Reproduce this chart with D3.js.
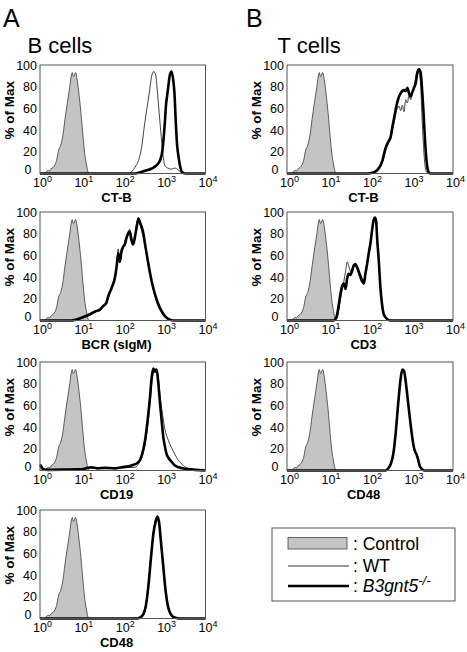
<!DOCTYPE html>
<html><head><meta charset="utf-8">
<script src="https://cdn.jsdelivr.net/npm/d3@7"></script>
<style>body{margin:0;background:#fff}svg{display:block}text{font-family:"Liberation Sans",Arial,Helvetica,sans-serif;fill:#000}</style>
</head><body><svg id="c" width="467" height="652"></svg>
<script>
// ---------- data (x = log10 fluorescence exponent, y = % of Max) ----------
const xTickExps = [0, 1, 2, 3, 4];
const yTickVals = [0, 20, 40, 60, 80, 100];
const legendLabels = ["Control", "WT", "B3gnt5"];

const controlHist = [[0.12,0],[0.16,2],[0.19,3],[0.23,2.5],[0.27,4.5],[0.315,5.6],[0.36,8],[0.40,12],[0.45,21.6],[0.50,26],[0.56,37],[0.60,49],[0.66,65],[0.72,80],[0.76,91],[0.78,93],[0.80,90],[0.82,89.5],[0.84,92],[0.86,93],[0.90,86],[0.94,74],[0.99,56],[1.04,34],[1.08,18.5],[1.12,9],[1.16,1.5],[1.19,0]];

const ctbB_WT = [[0,0],[2.12,0],[2.21,1.5],[2.30,6],[2.38,12],[2.46,25],[2.52,43],[2.58,59],[2.64,74],[2.70,90],[2.75,94],[2.80,90],[2.84,74],[2.88,56],[2.93,34],[2.98,15],[3.02,7],[3.09,5],[3.18,4],[3.26,5],[3.35,3],[3.43,0.5],[3.5,0],[4,0]];
const ctbB_KO = [[0,0],[2.30,0],[2.38,0.6],[2.54,2.5],[2.70,4.6],[2.82,7.7],[2.90,12],[2.96,21.6],[3.01,43],[3.05,65],[3.07,71],[3.10,80],[3.14,91],[3.18,94],[3.22,86],[3.25,74],[3.28,49],[3.31,28],[3.35,15],[3.39,6],[3.43,1.5],[3.51,0],[4,0]];

const bcr_WT = [[0,0],[0.8,0],[0.9,0.5],[1.0,2],[1.19,4.5],[1.35,8],[1.45,11],[1.52,12],[1.60,17],[1.65,21],[1.73,29],[1.81,38],[1.85,47],[1.89,66],[1.93,55],[1.97,62],[2.01,66],[2.05,73],[2.09,77],[2.13,82],[2.17,84],[2.21,78],[2.25,72],[2.30,80],[2.34,90],[2.38,95],[2.42,88],[2.46,82],[2.50,76],[2.54,68],[2.58,60],[2.62,50],[2.70,35],[2.78,22],[2.86,13],[2.94,7],[3.02,3],[3.10,1],[3.2,0],[4,0]];
const bcr_KO = [[0,0],[0.75,0],[0.84,0.5],[1.0,2.5],[1.19,5.5],[1.35,8.6],[1.45,10],[1.52,13],[1.60,16],[1.65,22.5],[1.73,30],[1.81,39.5],[1.85,49],[1.89,62],[1.93,54],[1.97,64],[2.01,68],[2.05,70],[2.09,76],[2.13,80],[2.17,82],[2.21,74],[2.25,70],[2.30,78],[2.34,87],[2.38,94],[2.42,90],[2.46,86],[2.50,80],[2.54,70],[2.58,61],[2.62,52],[2.70,36],[2.78,24],[2.86,15],[2.94,8.6],[3.02,4],[3.10,1.5],[3.18,0.3],[3.3,0],[4,0]];

const cd19_WT = [[0,3],[0.07,1],[0.5,0.5],[1.24,2],[1.6,1.5],[2.0,2.5],[2.30,3],[2.38,6],[2.46,12],[2.54,24],[2.60,40],[2.66,62],[2.70,80],[2.74,90],[2.78,94],[2.82,92],[2.86,86],[2.90,70],[2.96,52],[3.02,38],[3.10,28],[3.18,21],[3.26,15],[3.35,9],[3.43,6],[3.51,3],[3.67,1.5],[3.84,0.5],[4,0]];
const cd19_KO = [[0,5.5],[0.03,4],[0.07,1.5],[0.19,0.6],[1.0,1],[1.24,3],[1.4,2],[1.57,2.5],[1.8,2],[1.97,3],[2.21,4.6],[2.38,7.7],[2.46,14],[2.54,28],[2.60,46],[2.66,68],[2.70,86],[2.74,94],[2.78,91],[2.82,93],[2.86,80],[2.90,62],[2.94,46],[2.98,31],[3.02,22],[3.06,15],[3.10,12],[3.18,8],[3.26,4.6],[3.35,3],[3.51,1.5],[3.75,0.6],[4,0]];

const cd48B_WT = [[0,0],[2.0,0],[2.35,0.5],[2.42,1.5],[2.50,5],[2.56,14],[2.62,33],[2.68,58],[2.74,80],[2.80,92],[2.84,93],[2.88,86],[2.92,70],[2.98,45],[3.04,22],[3.10,9],[3.16,3.5],[3.22,1],[3.30,0.5],[3.5,0],[4,0]];
const cd48B_KO = [[0,0],[2.35,0],[2.42,1],[2.50,4],[2.56,12],[2.62,30],[2.68,55],[2.74,78],[2.80,90],[2.84,94],[2.88,88],[2.92,72],[2.98,48],[3.04,24],[3.10,10],[3.16,4],[3.22,1.5],[3.30,0.5],[3.40,0],[4,0]];

const ctbT_WT = [[0,0],[1.95,0],[2.05,0.5],[2.17,2],[2.30,10],[2.35,17],[2.40,24],[2.45,28],[2.50,32],[2.54,40],[2.58,47],[2.62,55],[2.66,60],[2.70,62],[2.74,58],[2.78,63],[2.82,57],[2.86,68],[2.90,65],[2.94,72],[2.98,68],[3.02,74],[3.06,80],[3.10,88],[3.14,94],[3.18,93],[3.22,82],[3.25,55],[3.29,25],[3.33,6],[3.37,1],[3.41,0],[4,0]];
const ctbT_KO = [[0,0],[1.95,0],[2.05,0.6],[2.17,3],[2.30,12],[2.35,20],[2.40,26],[2.45,30],[2.50,34],[2.54,43],[2.58,51],[2.62,59],[2.66,66],[2.70,71],[2.74,74],[2.78,76],[2.82,77],[2.86,76],[2.90,79],[2.94,74],[2.98,71],[3.02,75],[3.06,79],[3.10,83],[3.14,93],[3.18,96],[3.22,93],[3.25,80],[3.29,56],[3.33,28],[3.37,9],[3.41,1.5],[3.45,0],[4,0]];

const cd3_WT = [[0,0],[1.12,0],[1.19,1],[1.25,10],[1.29,20],[1.33,28],[1.37,36],[1.41,45],[1.45,54],[1.49,50],[1.53,45],[1.57,48],[1.61,50],[1.65,50],[1.69,47],[1.73,42],[1.81,35],[1.85,36],[1.89,45],[1.93,55],[1.97,64],[2.01,73],[2.05,84],[2.09,92],[2.12,94],[2.15,90],[2.17,75],[2.21,54],[2.25,29],[2.29,13],[2.33,5],[2.41,1],[2.49,0],[4,0]];
const cd3_KO = [[0,0],[1.12,0],[1.19,3],[1.25,15],[1.29,25],[1.33,32],[1.37,34],[1.41,29],[1.45,39],[1.49,43],[1.53,42],[1.57,46],[1.61,51],[1.65,52],[1.69,49],[1.73,45],[1.81,37],[1.85,34],[1.89,43],[1.93,52],[1.97,62],[2.01,71],[2.05,83],[2.09,93],[2.12,95],[2.15,91],[2.17,77],[2.21,56],[2.25,31],[2.29,15],[2.33,6],[2.41,1.5],[2.49,0],[4,0]];

const cd48T_WT = [[0,0],[2.38,0],[2.44,1.5],[2.50,5],[2.56,14],[2.62,33],[2.68,60],[2.74,84],[2.78,92],[2.82,92],[2.86,83],[2.92,62],[2.98,41],[3.04,24],[3.08,17],[3.12,14],[3.16,9],[3.20,3.5],[3.26,1],[3.32,0],[4,0]];
const cd48T_KO = [[0,0],[2.38,0],[2.44,2],[2.50,6],[2.56,15],[2.62,35],[2.68,62],[2.74,85],[2.78,93],[2.82,92],[2.86,82],[2.92,62],[2.98,42],[3.04,25],[3.08,18],[3.12,15],[3.16,10],[3.20,4],[3.26,1],[3.32,0],[4,0]];

const panels = [
  {col:0,row:0,xlabel:"CT-B",wt:ctbB_WT,ko:ctbB_KO},
  {col:0,row:1,xlabel:"BCR (sIgM)",wt:bcr_WT,ko:bcr_KO},
  {col:0,row:2,xlabel:"CD19",wt:cd19_WT,ko:cd19_KO},
  {col:0,row:3,xlabel:"CD48",wt:cd48B_WT,ko:cd48B_KO},
  {col:1,row:0,xlabel:"CT-B",wt:ctbT_WT,ko:ctbT_KO},
  {col:1,row:1,xlabel:"CD3",wt:cd3_WT,ko:cd3_KO},
  {col:1,row:2,xlabel:"CD48",wt:cd48T_WT,ko:cd48T_KO}
];

// ---------- layout ----------
const colX = [[40,205.5],[287,453]];
const rowTop = [65,212,362,510];
const H = 108.5;
const svg = d3.select("#c");

// column headings
[["A",3,"B cells",27.5],["B",246,"T cells",277.5]].forEach(([l,lx,t,tx])=>{
  svg.append("text").attr("x",lx).attr("y",26.5).attr("font-size",25).text(l);
  svg.append("text").attr("x",tx).attr("y",53).attr("font-size",22).text(t);
});

panels.forEach(p=>{
  const [x0,x1] = colX[p.col];
  const top = rowTop[p.row];
  const x = d3.scaleLog().domain([1,1e4]).range([x0,x1]);
  const y = d3.scaleLinear().domain([0,100]).range([top+H, top]);
  const g = svg.append("g");
  const px = d => x(Math.pow(10,d[0]));

  g.append("path").datum(controlHist)
    .attr("d", d3.area().x(px).y0(y(0)).y1(d=>y(d[1])).curve(d3.curveMonotoneX))
    .attr("fill","#c4c4c4").attr("stroke","#222").attr("stroke-width",0.7);
  g.append("path").datum(p.wt)
    .attr("d", d3.line().x(px).y(d=>y(d[1])).curve(d3.curveMonotoneX))
    .attr("fill","none").attr("stroke","#111").attr("stroke-width",0.8);
  g.append("path").datum(p.ko)
    .attr("d", d3.line().x(px).y(d=>y(d[1])).curve(d3.curveMonotoneX))
    .attr("fill","none").attr("stroke","#000").attr("stroke-width",2.6).attr("stroke-linejoin","round");

  g.append("rect").attr("x",x0).attr("y",top).attr("width",x1-x0).attr("height",H)
    .attr("fill","none").attr("stroke","#555").attr("stroke-width",1);

  // y tick labels (the "0" sits a little left and up, clear of the 10^0 label)
  yTickVals.forEach(v=>{
    g.append("text").attr("x", v===0 ? x0-8.5 : x0-3).attr("y",y(v))
      .attr("dy", v===0 ? "0.05em" : "0.36em")
      .attr("text-anchor","end").attr("font-size",12.5).text(v);
  });
  // x tick labels
  xTickExps.forEach(e=>{
    const t = g.append("text").attr("x",x(Math.pow(10,e))-7).attr("y",top+H+13).attr("font-size",12.5);
    t.append("tspan").text("10");
    t.append("tspan").attr("dy",-5).attr("font-size",9).text(e);
  });
  // axis titles
  g.append("text").attr("x",x0+76.5).attr("y",top+H+28.5).attr("text-anchor","middle")
    .attr("font-size",13).attr("font-weight","bold").text(p.xlabel);
  const yc = top + H/2 - 9;
  const bx = p.col===0 ? 13.5 : 260.5;
  g.append("text").attr("transform",`translate(${bx},${yc}) rotate(-90)`)
    .attr("text-anchor","middle").attr("font-size",13.5).attr("font-weight","bold").text("% of Max");
});

// ---------- legend ----------
const lg = svg.append("g");
lg.append("rect").attr("x",272).attr("y",528).attr("width",183).attr("height",73)
  .attr("fill","none").attr("stroke","#555").attr("stroke-width",1);
lg.append("rect").attr("x",288).attr("y",537.5).attr("width",59).attr("height",11.5)
  .attr("fill","#c4c4c4").attr("stroke","#444").attr("stroke-width",0.8);
lg.append("line").attr("x1",288).attr("x2",349).attr("y1",566).attr("y2",566)
  .attr("stroke","#333").attr("stroke-width",1);
lg.append("line").attr("x1",288).attr("x2",349).attr("y1",586).attr("y2",586)
  .attr("stroke","#000").attr("stroke-width",2.6);
lg.append("text").attr("x",353).attr("y",549.5).attr("font-size",17.5).text(": " + legendLabels[0]);
lg.append("text").attr("x",353).attr("y",571.5).attr("font-size",17.5).text(": " + legendLabels[1]);
const kt = lg.append("text").attr("x",353).attr("y",591.5).attr("font-size",17.5);
kt.append("tspan").text(": ");
kt.append("tspan").attr("font-style","italic").text(legendLabels[2]);
kt.append("tspan").attr("font-style","italic").attr("font-size",13).attr("dy",-7).text("-/-");
</script></body></html>
